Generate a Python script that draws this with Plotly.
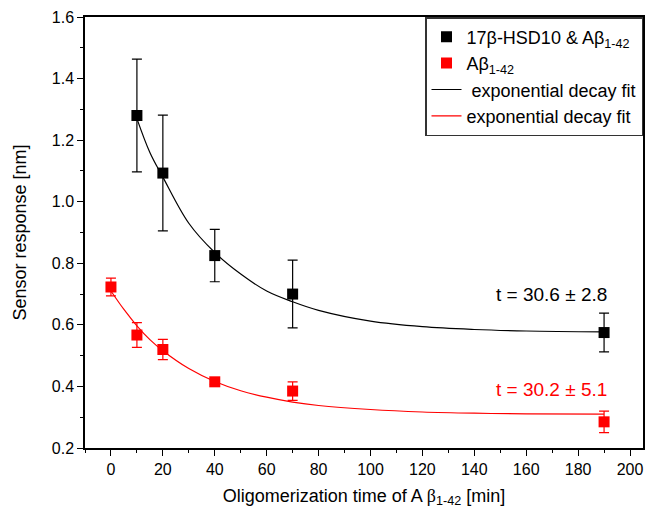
import plotly.graph_objects as go

# Measured data
x_hsd = [10, 20, 40, 70, 190]
y_hsd = [1.28, 1.093, 0.825, 0.70, 0.575]
err_hsd = [0.183, 0.188, 0.085, 0.11, 0.063]

x_ab = [0, 10, 20, 40, 70, 190]
y_ab = [0.723, 0.567, 0.52, 0.415, 0.385, 0.285]
err_ab = [0.029, 0.04, 0.033, 0.008, 0.03, 0.035]

# Fit curves
x_fit_hsd = [10, 15, 20, 30, 40, 50, 60, 70, 80, 100, 120, 140, 160, 190]
y_fit_hsd = [1.27, 1.16, 1.08, 0.93, 0.835, 0.765, 0.71, 0.675, 0.647, 0.612, 0.594, 0.585, 0.58, 0.577]
x_fit_ab = [0, 5, 10, 15, 20, 30, 40, 50, 60, 70, 80, 100, 120, 140, 160, 190]
y_fit_ab = [0.71, 0.65, 0.597, 0.552, 0.516, 0.458, 0.416, 0.386, 0.365, 0.349, 0.338, 0.325, 0.317, 0.313, 0.311, 0.31]

x_ticks = list(range(0, 201, 20))
y_ticks = [0.2, 0.4, 0.6, 0.8, 1.0, 1.2, 1.4, 1.6]

font = "Liberation Sans, Arial, sans-serif"
beta = "<span style='font-family:Liberation Serif, Times New Roman, serif'>β</span>"

fig = go.Figure()
fig.add_trace(go.Scatter(
    x=x_hsd, y=y_hsd, mode="markers", name="17β-HSD10 & Aβ<sub>1-42</sub>",
    marker=dict(symbol="square", size=11, color="black"),
    error_y=dict(type="data", array=err_hsd, color="black", thickness=1.2, width=5),
))
fig.add_trace(go.Scatter(
    x=x_ab, y=y_ab, mode="markers", name="Aβ<sub>1-42</sub>",
    marker=dict(symbol="square", size=11, color="red"),
    error_y=dict(type="data", array=err_ab, color="red", thickness=1.2, width=5),
))
fig.add_trace(go.Scatter(
    x=x_fit_hsd, y=y_fit_hsd, mode="lines", name=" exponential decay fit",
    line=dict(color="black", width=1.2, shape="spline"),
))
fig.add_trace(go.Scatter(
    x=x_fit_ab, y=y_fit_ab, mode="lines", name="exponential decay fit",
    line=dict(color="red", width=1.2, shape="spline"),
))

fig.add_annotation(x=192, y=0.70, xref="x", yref="y", text="t = 30.6 ± 2.8",
                   showarrow=False, xanchor="right", font=dict(size=19, color="black", family=font))
fig.add_annotation(x=192, y=0.39, xref="x", yref="y", text="t = 30.2 ± 5.1",
                   showarrow=False, xanchor="right", font=dict(size=19, color="red", family=font))

axis_common = dict(showline=True, linecolor="black", linewidth=1.5, mirror=True,
                   ticks="outside", ticklen=6, tickwidth=1.2, tickcolor="black",
                   showgrid=False, zeroline=False,
                   tickfont=dict(size=16, color="black", family=font),
                   minor=dict(ticks="outside", ticklen=3, tickwidth=1, tickcolor="black"))

fig.update_xaxes(range=[-10, 205], tickvals=x_ticks, ticktext=[str(v) for v in x_ticks],
                 title=dict(text="Oligomerization time of A " + beta + "<sub>1-42</sub> [min]",
                            font=dict(size=18, color="black", family=font), standoff=12),
                 minor_dtick=10, **axis_common)
fig.update_yaxes(range=[0.2, 1.6], tickvals=y_ticks, ticktext=[f"{v:.1f}" for v in y_ticks],
                 title=dict(text="Sensor response [nm]", font=dict(size=18, color="black", family=font), standoff=20),
                 minor_dtick=0.1, **axis_common)

fig.update_layout(
    width=654, height=512,
    margin=dict(l=85, r=9, t=17, b=63),
    plot_bgcolor="white", paper_bgcolor="white",
    font=dict(family=font, color="black"),
    showlegend=True,
    legend=dict(x=1, y=1, xanchor="right", yanchor="top", bgcolor="white",
                bordercolor="#333", borderwidth=1.5, font=dict(size=18, color="black", family=font),
                tracegroupgap=0, itemwidth=30),
)

fig.write_html("out.html")
